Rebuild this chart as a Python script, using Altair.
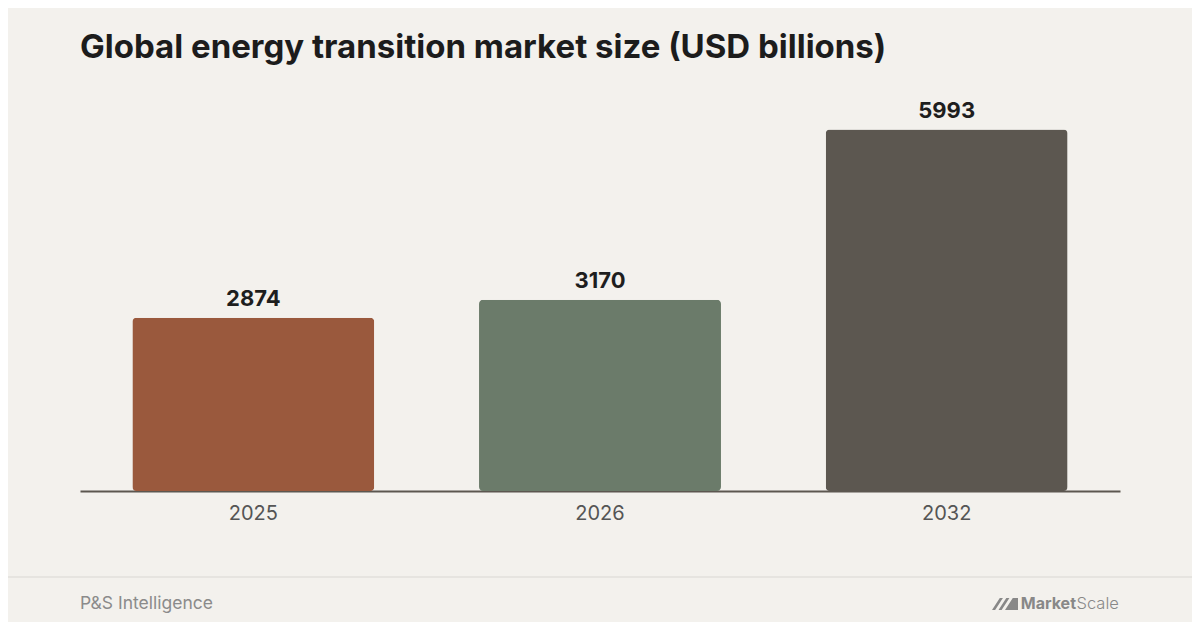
import altair as alt
import pandas as pd

years = ["2025", "2026", "2032"]
values = [2874, 3170, 5993]
colors = ["#9A593D", "#6B7B6A", "#5C5750"]

title_text = "Global energy transition market size (USD billions)"
source_text = "P&S Intelligence"

df = pd.DataFrame({"year": years, "value": values, "color": colors})
one = pd.DataFrame({"k": [0]})

FONT = "Inter"

x = alt.X("year:N", sort=years, title=None,
          scale=alt.Scale(paddingInner=0.302, paddingOuter=0.151),
          axis=alt.Axis(labelAngle=0, labelFontSize=20, labelColor="#555555",
                        labelFont=FONT, labelPadding=12, ticks=False,
                        domainColor="#5C5750", domainWidth=2, grid=False))
y = alt.Y("value:Q", scale=alt.Scale(domain=[0, 6500], nice=False), axis=None)

bars = alt.Chart(df).mark_bar(cornerRadius=4).encode(
    x=x, y=y, color=alt.Color("color:N", scale=None)
)
labels = alt.Chart(df).mark_text(
    dy=-12, baseline="alphabetic", fontSize=22, fontWeight="bold",
    font=FONT, color="#1E1E1E"
).encode(x=alt.X("year:N", sort=years), y="value:Q", text="value:Q")

title = alt.Chart(one).mark_text(
    align="left", baseline="alphabetic", fontSize=33, fontWeight="bold",
    font=FONT, color="#1C1C1C", text=title_text
).encode(x=alt.value(0), y=alt.value(-41))

sep = alt.Chart(one).mark_rule(color="#E6E4E0", strokeWidth=2).encode(
    x=alt.value(-80), x2=alt.value(1120), y=alt.value(478)
)

source = alt.Chart(one).mark_text(
    align="left", baseline="alphabetic", fontSize=17.5, font=FONT,
    color="#8B8B8B", text=source_text
).encode(x=alt.value(0), y=alt.value(510))

logo_bold = alt.Chart(one).mark_text(
    align="right", baseline="alphabetic", fontSize=16, fontWeight="bold",
    font=FONT, color="#888888", text="Market"
).encode(x=alt.value(996), y=alt.value(510))
logo_light = alt.Chart(one).mark_text(
    align="left", baseline="alphabetic", fontSize=16.5, fontWeight=300,
    font=FONT, color="#888888", text="Scale"
).encode(x=alt.value(996.5), y=alt.value(510))

icon_path = ("M -1 0.46 L -0.4 -0.46 L -0.16 -0.46 L -0.76 0.46 Z "
             "M -0.5 0.46 L 0.1 -0.46 L 0.34 -0.46 L -0.26 0.46 Z "
             "M 0 0.46 L 0.6 -0.46 L 1 -0.46 L 1 0.46 Z")
icon = alt.Chart(one).mark_point(
    shape=icon_path, size=676, filled=True, color="#888888", opacity=1,
    strokeWidth=0
).encode(x=alt.value(925), y=alt.value(505))

chart = alt.layer(bars, labels, title, sep, source, logo_bold, logo_light, icon).properties(
    width=1040, height=392,
    padding={"left": 72, "top": 91, "right": 72, "bottom": 131},
    autosize=alt.AutoSizeParams(type="none"),
    background="#F3F1ED"
).configure_view(stroke=None)

chart.save("out.html", embed_options={"renderer": "svg", "actions": False})
